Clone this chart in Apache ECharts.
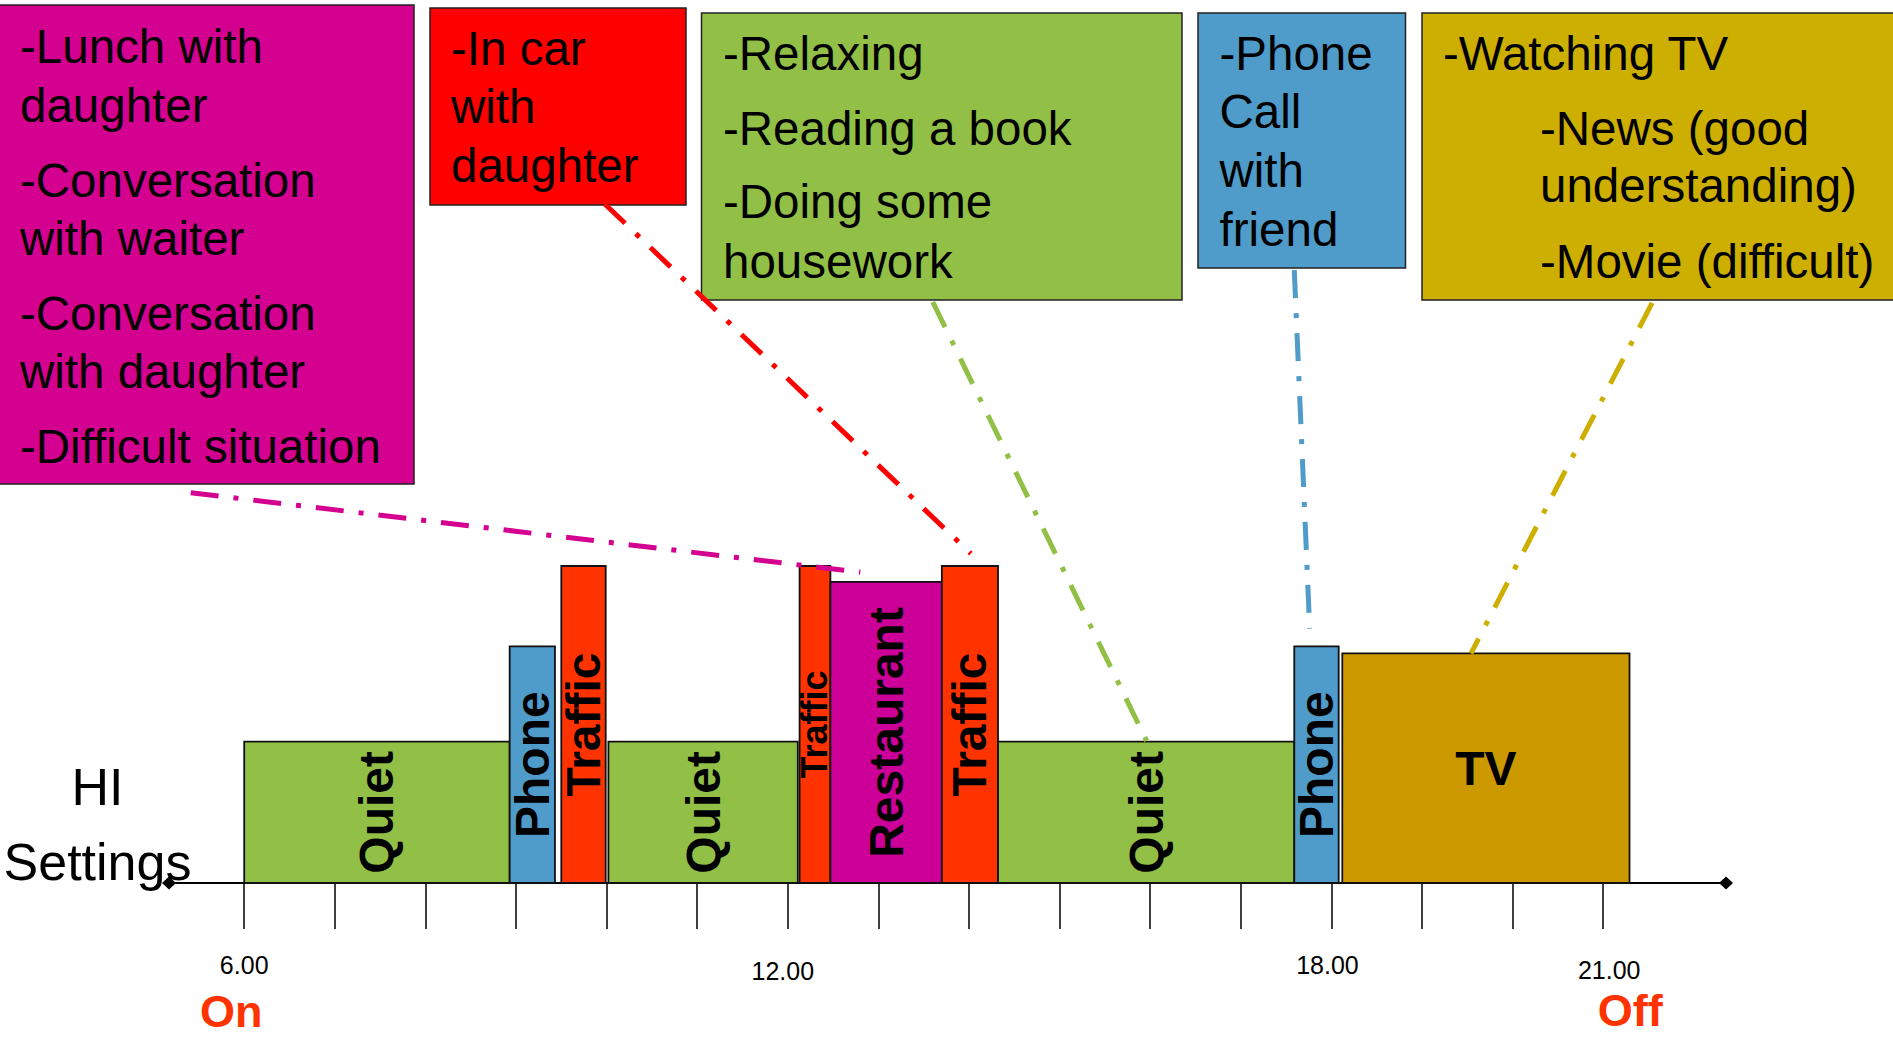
<!DOCTYPE html>
<html><head><meta charset="utf-8">
<script src="https://cdn.jsdelivr.net/npm/echarts@6/dist/echarts.min.js"></script>
<style>html,body{margin:0;padding:0;background:#fff}#c{width:1893px;height:1037px}</style>
</head><body><div id="c"></div>
<script>
// ---- data (hours of the day, relative level of the acoustic scene) ----
const segStart = [6.00, 8.93, 9.50, 10.02, 12.13, 12.47, 13.70, 14.32, 17.59, 18.12];
const segEnd   = [8.93, 9.43, 9.99, 12.11, 12.47, 13.70, 14.32, 17.59, 18.08, 21.29];
const segLevel = [16.0, 26.8, 35.9, 16.0, 35.9, 34.1, 35.9, 16.0, 26.8, 26.0];
const segLabel = ['Quiet', 'Phone', 'Traffic', 'Quiet', 'Traffic', 'Restaurant', 'Traffic', 'Quiet', 'Phone', 'TV'];
const segKind  = ['quiet', 'phone', 'traffic', 'quiet', 'traffic', 'restaurant', 'traffic', 'quiet', 'phone', 'tv'];

const tickHours  = [6, 7, 8, 9, 10, 11, 12, 13, 14, 15, 16, 17, 18, 19, 20, 21];
const labelHours = [6, 12, 18, 21];
const labelText  = ['6.00', '12.00', '18.00', '21.00'];
const switchText = ['On', '', '', 'Off'];

const calloutText = [
  ['-Lunch with', 'daughter', '-Conversation', 'with waiter', '-Conversation', 'with daughter', '-Difficult situation'],
  ['-In car', 'with', 'daughter'],
  ['-Relaxing', '-Reading a book', '-Doing some', 'housework'],
  ['-Phone', 'Call', 'with', 'friend'],
  ['-Watching TV', '-News (good', 'understanding)', '-Movie (difficult)']
];
// connector end points [hour, level]
const linkFrom = [[5.41, 44.2], [9.98, 76.9], [13.60, 65.8], [17.59, 69.4], [21.54, 65.7]];
const linkTo   = [[12.80, 35.2], [14.02, 37.3], [15.96, 16.1], [17.76, 28.8], [19.54, 26.0]];

// ---- styles / layout ----
const FONT = '"Liberation Sans", Arial, Helvetica, sans-serif';
const kindStyle = {
  quiet:      {fill: '#92C046', vertical: true},
  phone:      {fill: '#4F9BC9', vertical: true},
  traffic:    {fill: '#FF3300', vertical: true},
  restaurant: {fill: '#CC0099', vertical: true},
  tv:         {fill: '#CC9900', vertical: false}
};
const boxLayout = [
  {x: -2,    y: 5,  w: 416,   h: 479, fill: '#D4008F', tx: [20, 20, 20, 20, 20, 20, 20], by: [62.7, 121.7, 196.7, 255, 330, 388, 463]},
  {x: 430,   y: 8,  w: 256,   h: 197, fill: '#FF0000', tx: [451, 451, 451], by: [65, 123, 182]},
  {x: 701.5, y: 13, w: 480.5, h: 287, fill: '#92C046', tx: [723, 723, 723, 723], by: [70, 145, 218, 278]},
  {x: 1198,  y: 13, w: 207.5, h: 255, fill: '#4F9BC9', tx: [1219.5, 1219.5, 1219.5, 1219.5], by: [70, 128, 187, 246]},
  {x: 1422,  y: 13, w: 500,   h: 287, fill: '#CCAF00', tx: [1443, 1540, 1540, 1540], by: [70, 145, 202, 278]}
];
const linkColor = ['#D4008F', '#FF0000', '#92C046', '#4F9BC9', '#CCAF00'];
const BOX_FS = 47.5;
const MID = 0.3465; // alphabetic baseline offset from middle, in em

const graphicEls = [];
boxLayout.forEach((b, i) => {
  graphicEls.push({type: 'rect', z: 1, shape: {x: b.x, y: b.y, width: b.w, height: b.h},
    style: {fill: b.fill, stroke: '#222', lineWidth: 1.5}});
  calloutText[i].forEach((t, j) => {
    graphicEls.push({type: 'text', z: 2, x: b.tx[j], y: b.by[j] - MID * BOX_FS,
      style: {text: t, font: BOX_FS + 'px ' + FONT, fill: '#000', textAlign: 'left', align: 'left',
        textVerticalAlign: 'middle', verticalAlign: 'middle'}});
  });
});
const HI_FS = 52;
[['HI', 805], ['Settings', 880]].forEach(([t, b]) => {
  graphicEls.push({type: 'text', z: 2, x: 97.5, y: b - MID * HI_FS,
    style: {text: t, font: HI_FS + 'px ' + FONT, fill: '#000', textAlign: 'center', align: 'center',
      textVerticalAlign: 'middle', verticalAlign: 'middle'}});
});

const segData = segStart.map((s, i) => [s, segEnd[i], segLevel[i]]);

const linkSeries = linkFrom.map((p, i) => ({
  type: 'line', data: [p, linkTo[i]], symbol: 'none', silent: true, z: 10,
  lineStyle: {color: linkColor[i], width: 5, type: [28, 15, 5, 15], cap: 'butt'}
}));

const labelRich = {
  a0: {fontSize: 25, fontFamily: FONT, color: '#000', lineHeight: 60},
  a1: {fontSize: 25, fontFamily: FONT, color: '#000', lineHeight: 72, padding: [0, 10, 0, 0]},
  a2: {fontSize: 25, fontFamily: FONT, color: '#000', lineHeight: 60, padding: [0, 8, 0, 0]},
  a3: {fontSize: 25, fontFamily: FONT, color: '#000', lineHeight: 70, padding: [0, 0, 0, 12]},
  s0: {fontSize: 45, fontWeight: 'bold', fontFamily: FONT, color: '#FF3300', lineHeight: 32, padding: [0, 26, 0, 0]},
  s3: {fontSize: 45, fontWeight: 'bold', fontFamily: FONT, color: '#FF3300', lineHeight: 10, padding: [0, 0, 0, 54]}
};

const chart = echarts.init(document.getElementById('c'), null, {renderer: 'svg'});
chart.setOption({
  animation: false,
  backgroundColor: '#fff',
  grid: {left: 169, right: 167, top: 0, bottom: 154, containLabel: false, outerBoundsMode: 'none'},
  xAxis: {
    type: 'value', min: 5.17, max: 22.355,
    axisLine: {show: true, onZero: false, symbol: ['diamond', 'diamond'], symbolSize: [13, 14],
      lineStyle: {color: '#000', width: 2}},
    axisTick: {show: true, inside: false, length: 46, customValues: tickHours,
      lineStyle: {color: '#000', width: 1.5}},
    axisLabel: {
      show: true, margin: 52, customValues: labelHours, verticalAlign: 'top',
      formatter: function (v) {
        const i = labelHours.indexOf(Math.round(v));
        if (i < 0) return '';
        let s = '{a' + i + '|' + labelText[i] + '}';
        if (switchText[i]) s += '\n{s' + i + '|' + switchText[i] + '}';
        return s;
      },
      rich: labelRich
    },
    splitLine: {show: false}
  },
  yAxis: {type: 'value', min: 0, max: 100, show: false, splitLine: {show: false}},
  graphic: {elements: graphicEls},
  series: [{
    type: 'custom', z: 3, silent: true,
    encode: {x: [0, 1], y: 2},
    data: segData,
    renderItem: function (params, api) {
      const i = params.dataIndex;
      const p0 = api.coord([api.value(0), api.value(2)]);
      const p1 = api.coord([api.value(1), 0]);
      const w = p1[0] - p0[0], h = p1[1] - p0[1];
      const st = kindStyle[segKind[i]];
      const fs = w < 35 ? 36 : 48;
      return {type: 'group', children: [
        {type: 'rect', shape: {x: p0[0], y: p0[1], width: w, height: h},
          style: {fill: st.fill, stroke: '#111', lineWidth: 1.8}},
        {type: 'text', x: p0[0] + w / 2, y: p0[1] + h / 2, rotation: st.vertical ? Math.PI / 2 : 0,
          style: {text: segLabel[i], font: 'bold ' + fs + 'px ' + FONT, fill: '#000',
            textAlign: 'center', align: 'center', textVerticalAlign: 'middle', verticalAlign: 'middle'}}
      ]};
    }
  }].concat(linkSeries)
});
</script></body></html>
